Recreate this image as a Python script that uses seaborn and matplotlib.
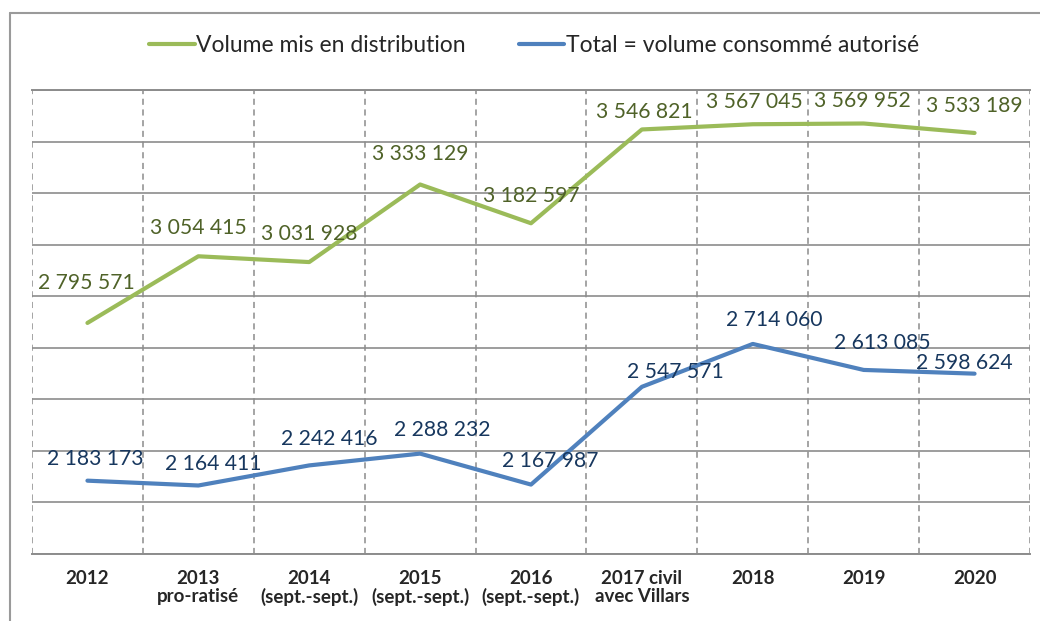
import seaborn as sns
import matplotlib.pyplot as plt
import pandas as pd
import numpy as np
from matplotlib.lines import Line2D

sns.set_theme(style="white")
plt.rcParams['font.family'] = ['Lato', 'DejaVu Sans']

# --- data ---
categories = ["2012", "2013\npro-ratisé", "2014\n(sept.-sept.)", "2015\n(sept.-sept.)",
              "2016\n(sept.-sept.)", "2017 civil\navec Villars", "2018", "2019", "2020"]
volume_distribution = [2795571, 3054415, 3031928, 3333129, 3182597,
                       3546821, 3567045, 3569952, 3533189]
volume_consomme = [2183173, 2164411, 2242416, 2288232, 2167987,
                   2547571, 2714060, 2613085, 2598624]
series_names = ["Volume mis en distribution", "Total = volume consommé autorisé"]

# label offsets in pixels, to mimic where Excel put the data labels
green_offsets = [(-1, 40), (0, 28), (0, 28), (0, 30), (0, 27), (2, 17), (2, 22), (-1, 22), (0, 27)]
blue_offsets = [(8, 22), (15, 21), (20, 26), (22, 24), (19, 24), (33, 15), (21, 24), (19, 27), (-10, 11)]

line_colors = ["#9bbb59", "#4f81bd"]
label_colors = ["#4f6228", "#17375e"]
grid_color = "#8c8c8c"

pos = list(range(len(categories)))
df = pd.DataFrame({
    "pos": pos * 2,
    "value": volume_distribution + volume_consomme,
    "series": [series_names[0]] * len(pos) + [series_names[1]] * len(pos),
})

fig = plt.figure(figsize=(10.4, 6.21), dpi=100)
ax = fig.add_axes([32 / 1040, 1 - 553.6 / 621, (1030 - 32) / 1040, (553.6 - 90) / 621])

sns.lineplot(data=df, x="pos", y="value", hue="series", palette=line_colors,
             linewidth=3, ax=ax, legend=False)

# data labels
def fmt(v):
    return f"{v:,}".replace(",", " ")

for vals, offs, col in [(volume_distribution, green_offsets, label_colors[0]),
                        (volume_consomme, blue_offsets, label_colors[1])]:
    for x, v, (dx, dy) in zip(pos, vals, offs):
        ax.annotate(fmt(v), (x, v), xytext=(dx, dy), textcoords="offset pixels",
                    ha="center", va="center", fontsize=15.2, color=col)

# axes / grid styling
ax.set_xlim(-0.5, len(categories) - 0.5)
ax.set_ylim(1900000, 3700000)
ax.set_yticks(np.arange(1900000, 3700001, 200000))
ax.set_yticklabels([])
ax.tick_params(axis="y", length=0)
ax.grid(axis="y", color=grid_color, linewidth=1.2, linestyle="-")

ax.set_xticks(pos)
ax.set_xticklabels(categories, fontsize=13.5, fontweight="bold", color="#262626",
                   linespacing=1.05)
ax.set_xticks(np.arange(-0.5, len(categories), 1), minor=True)
ax.tick_params(axis="x", which="major", length=0, pad=12)
ax.tick_params(axis="x", which="minor", length=5, color=grid_color, width=1.2, direction="out")
ax.grid(axis="x", which="minor", color=grid_color, linewidth=1.1, linestyle=(0, (4, 3)))
ax.grid(axis="x", which="major", visible=False)
ax.set_xlabel("")
ax.set_ylabel("")

for side in ["left", "right"]:
    ax.spines[side].set_visible(False)
for side in ["top", "bottom"]:
    ax.spines[side].set_color(grid_color)
    ax.spines[side].set_linewidth(1.4)

# legend on top
handles = [Line2D([0], [0], color=c, lw=3) for c in line_colors]
fig.legend(handles, series_names, loc="center", bbox_to_anchor=(534 / 1040, 1 - 46 / 621),
           ncol=2, frameon=False, fontsize=16.5, handlelength=2.0, handletextpad=0.05,
           columnspacing=2.3, labelcolor="#262626")

# outer chart border (cropped on the right and bottom in the source)
by = 1 - 13 / 621
bx = 10 / 1040
fig.add_artist(Line2D([bx, bx], [by, 0], transform=fig.transFigure, color="#9a9a9a", lw=1.5))
fig.add_artist(Line2D([bx, 1], [by, by], transform=fig.transFigure, color="#9a9a9a", lw=1.5))

fig.savefig("out.png", dpi=100, facecolor="white")
